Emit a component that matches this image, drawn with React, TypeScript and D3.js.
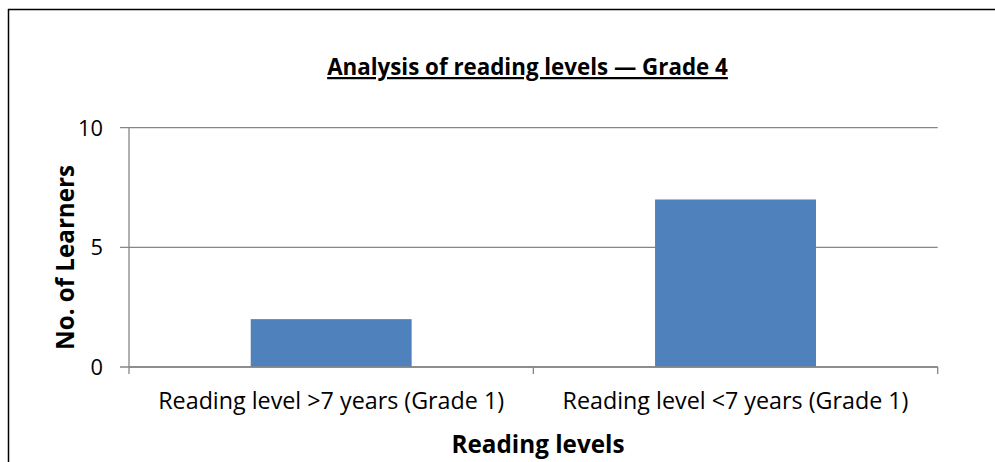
import React, { useLayoutEffect, useRef } from "react";
import * as d3 from "d3";

const categories = ["Reading level >7 years (Grade 1)", "Reading level <7 years (Grade 1)"];
const learners = [2, 7];
const yTicks = [0, 5, 10];
const title = "Analysis of reading levels — Grade 4";
const xTitle = "Reading levels";
const yTitle = "No. of Learners";

export default function App() {
  const W = 995, H = 462;
  const left = 129, right = 937.7, top = 127.7, bottom = 367;
  const x = d3.scaleBand<string>().domain(categories).range([left, right]).padding(0);
  const y = d3.scaleLinear().domain([0, 10]).range([bottom, top]);
  const barW = x.bandwidth() * 0.398;
  const font = "'Open Sans', sans-serif";
  const grid = "#868686";
  const svgRef = useRef<SVGSVGElement>(null);

  useLayoutEffect(() => {
    const svg = svgRef.current;
    if (!svg) return;
    // fit text widths to the reference's measured widths
    const fit = (sel: string, target: number) => {
      const els = Array.from(svg.querySelectorAll<SVGTextElement>(sel));
      if (!els.length) return;
      const base = parseFloat(els[0].getAttribute("font-size") || "16");
      const w = els[0].getComputedTextLength();
      const size = (base * target) / w;
      els.forEach((e) => e.setAttribute("font-size", String(size)));
    };
    fit(".title", 401);
    fit(".xcat", 346);
    fit(".xtitle", 173);
    fit(".ytitle", 185);
    fit(".ytick10", 25);
    const s = svg.querySelector<SVGTextElement>(".ytick10")!.getAttribute("font-size")!;
    svg.querySelectorAll(".ytick").forEach((e) => e.setAttribute("font-size", s));
  }, []);

  return (
    <svg ref={svgRef} width={W} height={H} style={{ position: "absolute", left: 0, top: 0, background: "#fff" }}>
      <rect x={0} y={0} width={W} height={H} fill="#fff" />
      <line x1={8.5} x2={8.5} y1={9} y2={H} stroke="#000" strokeWidth={1.5} />
      <line x1={8} x2={W} y1={9.5} y2={9.5} stroke="#000" strokeWidth={1.5} />
      {yTicks.map((t) => (
        <g key={t}>
          <line x1={120} x2={right} y1={y(t)} y2={y(t)} stroke={grid} strokeWidth={1.3} />
          <text className={t === 10 ? "ytick ytick10" : "ytick"} x={103} y={y(t)} dy="0.36em" textAnchor="end" fontFamily={font} fontSize={19} fill="#000">{t}</text>
        </g>
      ))}
      <line x1={left} x2={left} y1={top} y2={bottom + 7} stroke={grid} strokeWidth={1.3} />
      {categories.map((c, i) => (
        <g key={c}>
          <rect x={x(c)! + x.bandwidth() / 2 - barW / 2} y={y(learners[i])} width={barW} height={bottom - y(learners[i])} fill="#4F81BD" />
          <line x1={x(c)! + x.bandwidth()} x2={x(c)! + x.bandwidth()} y1={bottom} y2={bottom + 7} stroke={grid} strokeWidth={1.3} />
          <text className="xcat" x={x(c)! + x.bandwidth() / 2} y={409} textAnchor="middle" fontFamily={font} fontSize={19} fill="#000">{c}</text>
        </g>
      ))}
      <line x1={left} x2={right} y1={bottom} y2={bottom} stroke={grid} strokeWidth={1.3} />
      <text className="title" x={527.5} y={75} textAnchor="middle" fontFamily={font} fontWeight="bold" fontSize={19} textDecoration="underline" fill="#000">{title}</text>
      <text className="xtitle" x={538} y={453} textAnchor="middle" fontFamily={font} fontWeight="bold" fontSize={21} fill="#000">{xTitle}</text>
      <text className="ytitle" transform={`translate(74,257.5) rotate(-90)`} textAnchor="middle" fontFamily={font} fontWeight="bold" fontSize={21} fill="#000">{yTitle}</text>
    </svg>
  );
}
